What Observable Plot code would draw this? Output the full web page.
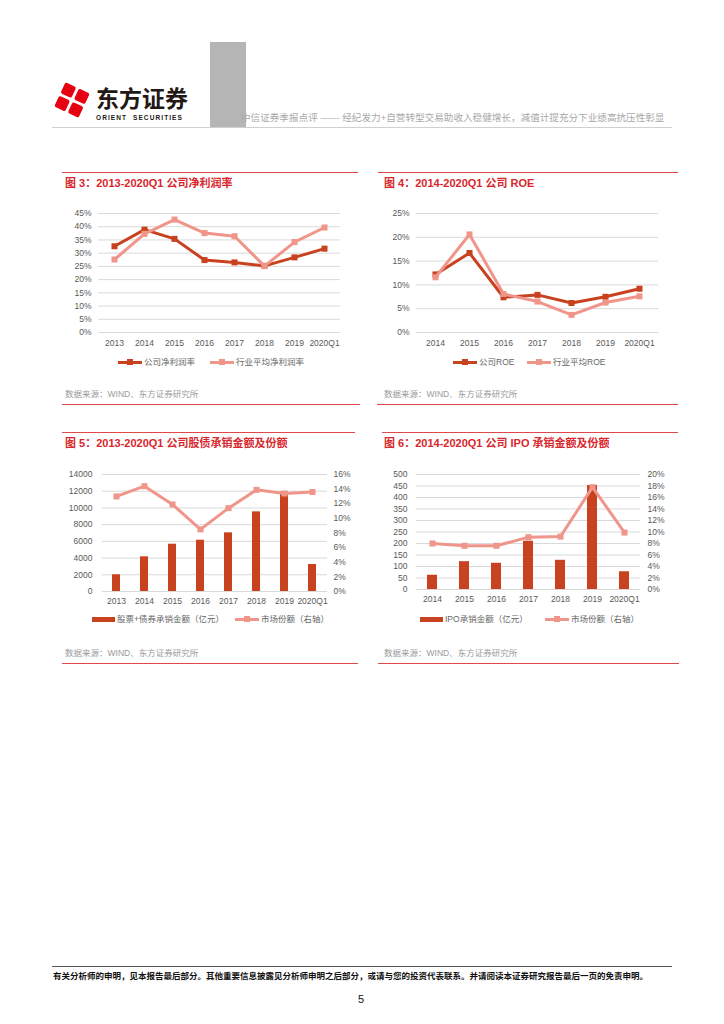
<!DOCTYPE html>
<html><head><meta charset="utf-8">
<script src="https://cdn.jsdelivr.net/npm/d3@7"></script>
<script src="https://cdn.jsdelivr.net/npm/@observablehq/plot@0.6"></script>
<style>
body{margin:0;background:#fff;}
#page{position:relative;width:724px;height:1024px;overflow:hidden;background:#fff;font-family:"Liberation Sans","Noto Sans CJK SC",sans-serif;}
.abs{position:absolute;white-space:nowrap;}
.title{font-size:11px;font-weight:bold;color:#D9262C;line-height:14px;}
.src{font-size:8.5px;color:#9a9a9a;line-height:12px;}
.rule{position:absolute;height:1px;background:#E0494B;}
.leg{position:absolute;font-size:8.5px;color:#666;white-space:nowrap;display:flex;align-items:center;height:12px;line-height:12px;}
.lsym{display:inline-block;position:relative;width:24px;height:3px;margin-right:2px;}
.lsym i{position:absolute;left:9px;top:-1.5px;width:6px;height:6px;}
.bsym{display:inline-block;width:23px;height:5px;margin-right:2px;}
.chart{position:absolute;}
.chart svg{display:block;overflow:visible;}
</style></head>
<body><div id="page"></div>
<script>
// ---------- data ----------
const years3 = ["2013","2014","2015","2016","2017","2018","2019","2020Q1"];
const companyMargin = [32.6,38.9,35.4,27.4,26.5,25.2,28.4,31.7];
const industryMargin = [27.6,37.3,42.7,37.6,36.4,25.1,34.2,39.7];
const marginTicks = [0,5,10,15,20,25,30,35,40,45];

const years4 = ["2014","2015","2016","2017","2018","2019","2020Q1"];
const companyROE = [12.2,16.7,7.4,7.9,6.2,7.5,9.2];
const industryROE = [11.6,20.6,8.1,6.5,3.7,6.3,7.6];
const roeTicks = [0,5,10,15,20,25];

const years5 = ["2013","2014","2015","2016","2017","2018","2019","2020Q1"];
const underwriting = [2000,4150,5660,6140,7020,9530,11900,3230];
const underwritingShare = [13.0,14.4,11.9,8.5,11.4,13.9,13.4,13.6];
const uwTicks = [0,2000,4000,6000,8000,10000,12000,14000];
const uwShareTicks = [0,2,4,6,8,10,12,14,16];

const years6 = ["2014","2015","2016","2017","2018","2019","2020Q1"];
const ipoAmount = [62,121,114,210,127,452,77];
const ipoShare = [8.0,7.6,7.6,9.1,9.2,17.8,9.9];
const ipoTicks = [0,50,100,150,200,250,300,350,400,450,500];
const ipoShareTicks = [0,2,4,6,8,10,12,14,16,18,20];

const C_DARK = "#C9421F", C_PINK = "#F0958A", C_GRID = "#D9D9D9";
const page = document.getElementById("page");
function add(html){ page.insertAdjacentHTML("beforeend", html); }

// ---------- header ----------
add(`<svg class="abs" style="left:51px;top:81px" width="42" height="38" viewBox="0 0 42 38">
  <g fill="#E60012" transform="translate(21,19) rotate(-20)">
    <rect x="-6" y="-16.5" width="12" height="12" rx="2" transform="rotate(45 0 -10.5)"/>
    <rect x="-6" y="4.5" width="12" height="12" rx="2" transform="rotate(45 0 10.5)"/>
    <rect x="-16.5" y="-6" width="12" height="12" rx="2" transform="rotate(45 -10.5 0)"/>
    <rect x="4.5" y="-6" width="12" height="12" rx="2" transform="rotate(45 10.5 0)"/>
  </g></svg>`);
add(`<div class="abs" style="left:96px;top:85px;font-size:23px;font-weight:bold;color:#231815;line-height:28px">东方证券</div>`);
add(`<div class="abs" style="left:96px;top:114px;font-size:6.5px;font-weight:bold;color:#231815;letter-spacing:1.1px;line-height:8px">ORIENT&nbsp; SECURITIES</div>`);
add(`<div class="abs" style="left:210px;top:42px;width:36px;height:85px;background:#B5B5B5"></div>`);
add(`<div class="abs" style="left:52px;top:127px;width:620px;height:1px;background:#D0D0D0"></div>`);
add(`<div class="abs" style="left:241px;top:111px;font-size:9.6px;color:#A8A8A8;line-height:14px">中信证券季报点评 —— 经纪发力+自营转型交易助收入稳健增长，减值计提充分下业绩高抗压性彰显</div>`);

// ---------- frames / titles / sources ----------
add(`<div class="rule" style="left:62px;top:172px;width:296px"></div>`);
add(`<div class="rule" style="left:378px;top:172px;width:300px"></div>`);
add(`<div class="rule" style="left:62px;top:404px;width:298px"></div>`);
add(`<div class="rule" style="left:377px;top:404px;width:301px"></div>`);
add(`<div class="rule" style="left:62px;top:432px;width:293px"></div>`);
add(`<div class="rule" style="left:382px;top:432px;width:296px"></div>`);
add(`<div class="rule" style="left:62px;top:663px;width:296px"></div>`);
add(`<div class="rule" style="left:378px;top:663px;width:301px"></div>`);

add(`<div class="abs title" style="left:65px;top:176px">图 3：2013-2020Q1 公司净利润率</div>`);
add(`<div class="abs title" style="left:384px;top:176px">图 4：2014-2020Q1 公司 ROE</div>`);
add(`<div class="abs title" style="left:65px;top:436px">图 5：2013-2020Q1 公司股债承销金额及份额</div>`);
add(`<div class="abs title" style="left:384px;top:436px">图 6：2014-2020Q1 公司 IPO 承销金额及份额</div>`);

add(`<div class="abs src" style="left:65px;top:388px">数据来源：WIND、东方证券研究所</div>`);
add(`<div class="abs src" style="left:384px;top:388px">数据来源：WIND、东方证券研究所</div>`);
add(`<div class="abs src" style="left:65px;top:647px">数据来源：WIND、东方证券研究所</div>`);
add(`<div class="abs src" style="left:384px;top:647px">数据来源：WIND、东方证券研究所</div>`);

// legends
const lineLeg = (x,y,color,label)=>add(`<div class="leg" style="left:${x}px;top:${y-6}px"><span class="lsym" style="background:${color}"><i style="background:${color}"></i></span><span>${label}</span></div>`);
const barLeg = (x,y,color,label)=>add(`<div class="leg" style="left:${x}px;top:${y-6}px"><span class="bsym" style="background:${color}"></span><span>${label}</span></div>`);
lineLeg(118,362,C_DARK,"公司净利润率");
lineLeg(210,362,C_PINK,"行业平均净利润率");
lineLeg(453,362,C_DARK,"公司ROE");
lineLeg(527,362,C_PINK,"行业平均ROE");
barLeg(92,619,C_DARK,"股票+债券承销金额（亿元）");
lineLeg(235,619,C_PINK,"市场份额（右轴）");
barLeg(420,619,C_DARK,"IPO承销金额（亿元）");
lineLeg(545,619,C_PINK,"市场份额（右轴）");

// footer
add(`<div class="abs" style="left:52px;top:966px;width:620px;height:1px;background:#555"></div>`);
add(`<div class="abs" style="left:53px;top:970px;font-size:8.5px;font-weight:bold;color:#111;line-height:12px">有关分析师的申明，见本报告最后部分。其他重要信息披露见分析师申明之后部分，或请与您的投资代表联系。并请阅读本证券研究报告最后一页的免责申明。</div>`);
add(`<div class="abs" style="left:358px;top:992px;font-size:11px;color:#111;line-height:14px">5</div>`);

// ---------- charts ----------
const baseStyle = {fontFamily:'"Liberation Sans","Noto Sans CJK SC",sans-serif', fontSize:"8.5px", color:"#595959", background:"transparent"};
function place(svg, left, top){
  const d = document.createElement("div");
  d.className = "chart"; d.style.left = left+"px"; d.style.top = top+"px";
  d.appendChild(svg); page.appendChild(d);
}

// Chart 3
const rows3 = years3.map((y,i)=>({year:y, company:companyMargin[i], industry:industryMargin[i]}));
place(Plot.plot({
  width:300, height:150, marginLeft:43, marginRight:15, marginTop:13, marginBottom:18,
  style: baseStyle,
  x: {type:"point", domain:years3, padding:0.5, label:null, tickSize:0, tickPadding:7},
  y: {domain:[0,45], ticks:marginTicks, tickFormat:d=>d+"%", label:null, tickSize:0, tickPadding:7},
  marks: [
    Plot.ruleY(marginTicks, {stroke:C_GRID, strokeWidth:1}),
    Plot.lineY(rows3, {x:"year", y:"company", stroke:C_DARK, strokeWidth:3}),
    Plot.dot(rows3, {x:"year", y:"company", symbol:"square", fill:C_DARK, r:3.4}),
    Plot.lineY(rows3, {x:"year", y:"industry", stroke:C_PINK, strokeWidth:3}),
    Plot.dot(rows3, {x:"year", y:"industry", symbol:"square", fill:C_PINK, r:3.4})
  ]
}), 55, 200);

// Chart 4
const rows4 = years4.map((y,i)=>({year:y, company:companyROE[i], industry:industryROE[i]}));
place(Plot.plot({
  width:300, height:150, marginLeft:41, marginRight:17, marginTop:13, marginBottom:18,
  style: baseStyle,
  x: {type:"point", domain:years4, padding:0.5, label:null, tickSize:0, tickPadding:7},
  y: {domain:[0,25], ticks:roeTicks, tickFormat:d=>d+"%", label:null, tickSize:0, tickPadding:7},
  marks: [
    Plot.ruleY(roeTicks, {stroke:C_GRID, strokeWidth:1}),
    Plot.lineY(rows4, {x:"year", y:"company", stroke:C_DARK, strokeWidth:3}),
    Plot.dot(rows4, {x:"year", y:"company", symbol:"square", fill:C_DARK, r:3.4}),
    Plot.lineY(rows4, {x:"year", y:"industry", stroke:C_PINK, strokeWidth:3}),
    Plot.dot(rows4, {x:"year", y:"industry", symbol:"square", fill:C_PINK, r:3.4})
  ]
}), 375, 200);

// Chart 5 (dual axis: share mapped onto amount scale)
const k5 = 14000/16;
const rows5 = years5.map((y,i)=>({year:y, amount:underwriting[i], share:underwritingShare[i]}));
place(Plot.plot({
  width:300, height:150, marginLeft:47, marginRight:28, marginTop:14, marginBottom:19,
  style: baseStyle,
  x: {type:"band", domain:years5, paddingInner:0.7, paddingOuter:0.35, label:null, tickSize:0, tickPadding:6},
  y: {domain:[0,14000], ticks:uwTicks, tickFormat:d=>String(d), label:null, tickSize:0, tickPadding:10},
  marks: [
    Plot.ruleY(uwTicks, {stroke:C_GRID, strokeWidth:1}),
    Plot.barY(rows5, {x:"year", y:"amount", fill:C_DARK}),
    Plot.lineY(rows5, {x:"year", y:d=>d.share*k5, stroke:C_PINK, strokeWidth:3}),
    Plot.dot(rows5, {x:"year", y:d=>d.share*k5, symbol:"square", fill:C_PINK, r:3.4}),
    Plot.text(uwShareTicks, {y:d=>d*k5, text:d=>d+"%", frameAnchor:"right", textAnchor:"start", dx:6, fill:"#595959"})
  ]
}), 55, 460);

// Chart 6
const k6 = 500/20;
const rows6 = years6.map((y,i)=>({year:y, amount:ipoAmount[i], share:ipoShare[i]}));
place(Plot.plot({
  width:300, height:150, marginLeft:41, marginRight:35, marginTop:14, marginBottom:21,
  style: baseStyle,
  x: {type:"band", domain:years6, paddingInner:0.7, paddingOuter:0.35, label:null, tickSize:0, tickPadding:6},
  y: {domain:[0,500], ticks:ipoTicks, tickFormat:d=>String(d), label:null, tickSize:0, tickPadding:9},
  marks: [
    Plot.ruleY(ipoTicks, {stroke:C_GRID, strokeWidth:1}),
    Plot.barY(rows6, {x:"year", y:"amount", fill:C_DARK}),
    Plot.lineY(rows6, {x:"year", y:d=>d.share*k6, stroke:C_PINK, strokeWidth:3}),
    Plot.dot(rows6, {x:"year", y:d=>d.share*k6, symbol:"square", fill:C_PINK, r:3.4}),
    Plot.text(ipoShareTicks, {y:d=>d*k6, text:d=>d+"%", frameAnchor:"right", textAnchor:"start", dx:7, fill:"#595959"})
  ]
}), 375, 460);
</script>
</body></html>
